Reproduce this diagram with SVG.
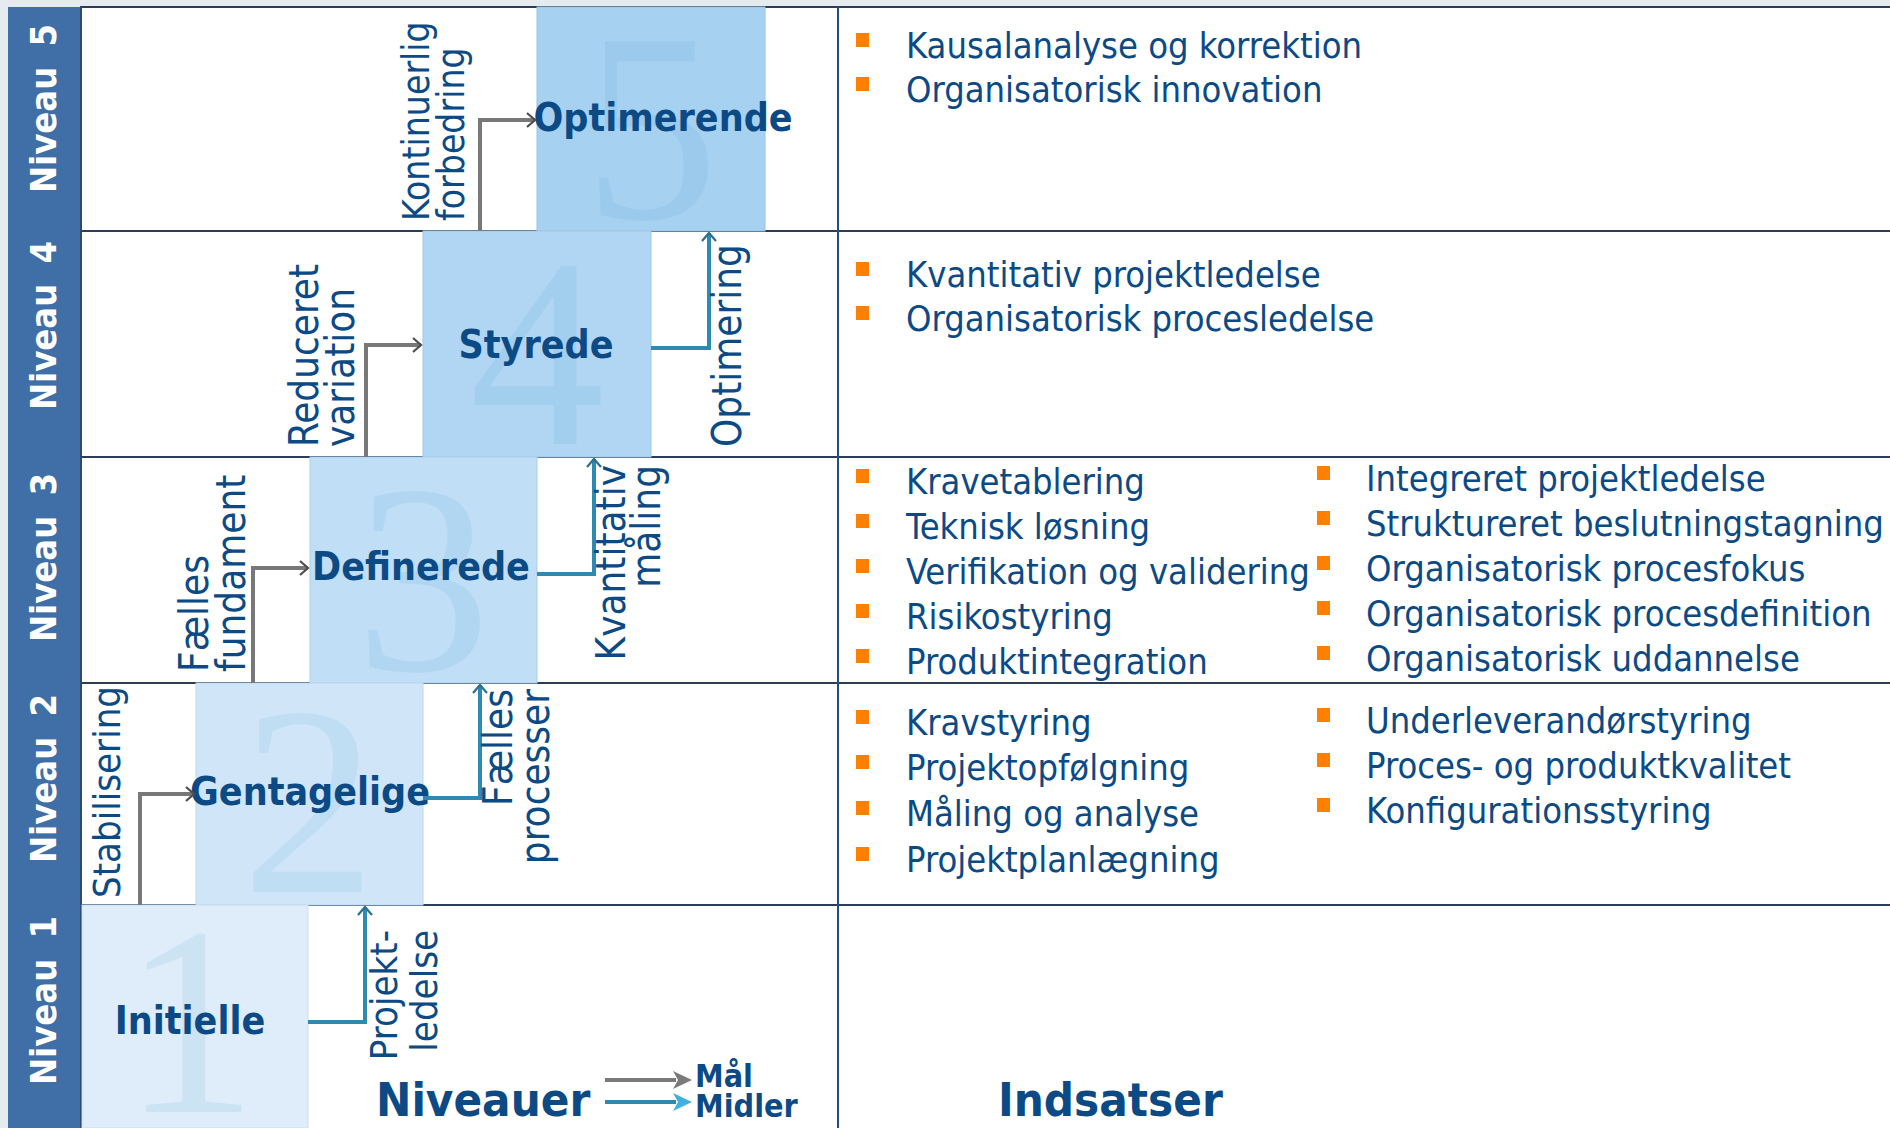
<svg xmlns="http://www.w3.org/2000/svg" width="1890" height="1128" viewBox="0 0 1890 1128">
<style>
.f{font-family:"DejaVu Sans","Liberation Sans",sans-serif;font-stretch:condensed}
.bold{font-weight:bold}
.dk{fill:#0b4a85}
.side{fill:#ffffff;font-weight:bold;font-size:36px}
.box-label{font-size:39px;text-anchor:middle}
.lab{font-size:40px}
.item{font-size:36px}
.num{font-family:"Liberation Serif",serif;font-size:270px;text-anchor:middle;fill:#4a9fd8;fill-opacity:0.12}
.rowline{stroke:#2b3e55;stroke-width:2}
.goal{fill:none;stroke:#787878;stroke-width:4}
.mean{fill:none;stroke:#2e8ab0;stroke-width:4}
.bul{fill:#ff8000}
</style>
<defs>
<marker id="mGoal" markerUnits="userSpaceOnUse" markerWidth="14" markerHeight="16" refX="11" refY="8" orient="auto">
<path d="M3,1 L11,8 L3,15" fill="none" stroke="#4d4d4d" stroke-width="2.2"/>
</marker>
<marker id="mMean" markerUnits="userSpaceOnUse" markerWidth="14" markerHeight="16" refX="11" refY="8" orient="auto">
<path d="M3,1 L11,8 L3,15" fill="none" stroke="#2a6f8f" stroke-width="2.2"/>
</marker>
</defs>

<!-- background -->
<rect x="0" y="0" width="1890" height="1128" fill="#e6ebf0"/>
<rect x="82" y="8" width="1808" height="1120" fill="#ffffff"/>

<!-- table grid -->
<g id="grid">
<line class="rowline" x1="80" y1="7" x2="1890" y2="7"/>
<line class="rowline" x1="80" y1="231" x2="1890" y2="231"/>
<line class="rowline" x1="80" y1="457" x2="1890" y2="457"/>
<line class="rowline" x1="80" y1="683" x2="1890" y2="683"/>
<line class="rowline" x1="80" y1="905" x2="1890" y2="905"/>
<line x1="838" y1="7" x2="838" y2="1128" stroke="#1f4e80" stroke-width="2"/>
</g>

<!-- sidebar -->
<g id="sidebar">
<rect x="8" y="7" width="73" height="1121" fill="#3f6fa6"/>
<line x1="81" y1="7" x2="81" y2="1128" stroke="#2b4a70" stroke-width="2"/>
<text class="f side" transform="translate(56,193) rotate(-90)">Niveau<tspan dx="9"> 5</tspan></text>
<text class="f side" transform="translate(56,410) rotate(-90)">Niveau<tspan dx="9"> 4</tspan></text>
<text class="f side" transform="translate(56,642) rotate(-90)">Niveau<tspan dx="9"> 3</tspan></text>
<text class="f side" transform="translate(56,863) rotate(-90)">Niveau<tspan dx="9"> 2</tspan></text>
<text class="f side" transform="translate(56,1085) rotate(-90)">Niveau<tspan dx="9"> 1</tspan></text>
</g>

<!-- level nodes -->
<g id="level5">
<rect x="537" y="7" width="228" height="224" fill="#a7d1f1" stroke="#98c3e4" stroke-width="1"/>
<text class="num" x="651" y="218">5</text>
<text class="f bold dk box-label" x="663" y="131">Optimerende</text>
</g>
<g id="level4">
<rect x="423" y="231" width="228" height="226" fill="#b0d6f3" stroke="#9fc7e6" stroke-width="1"/>
<text class="num" x="537" y="444">4</text>
<text class="f bold dk box-label" x="536" y="358">Styrede</text>
</g>
<g id="level3">
<rect x="310" y="457" width="227" height="226" fill="#c0def5" stroke="#aacfea" stroke-width="1"/>
<text class="num" x="423" y="670">3</text>
<text class="f bold dk box-label" x="421" y="580">Definerede</text>
</g>
<g id="level2">
<rect x="196" y="683" width="227" height="222" fill="#d0e6f8" stroke="#bad8ee" stroke-width="1"/>
<text class="num" x="309" y="892">2</text>
<text class="f bold dk box-label" x="310" y="805">Gentagelige</text>
</g>
<g id="level1">
<rect x="82" y="905" width="226" height="223" fill="#deedf9" stroke="#c8def0" stroke-width="1"/>
<text class="num" x="190" y="1112">1</text>
<text class="f bold dk box-label" x="190" y="1034">Initielle</text>
</g>

<!-- connectors -->
<g id="connectors">
<path class="goal" d="M140,905 V794 H194" marker-end="url(#mGoal)"/>
<path class="goal" d="M253,683 V568 H308" marker-end="url(#mGoal)"/>
<path class="goal" d="M366,457 V345 H421" marker-end="url(#mGoal)"/>
<path class="goal" d="M480,231 V120 H535" marker-end="url(#mGoal)"/>
<path class="mean" d="M308,1022 H365 V907" marker-end="url(#mMean)"/>
<path class="mean" d="M423,798 H480 V685" marker-end="url(#mMean)"/>
<path class="mean" d="M537,574 H594 V459" marker-end="url(#mMean)"/>
<path class="mean" d="M651,348 H709 V233" marker-end="url(#mMean)"/>
</g>

<!-- connector labels -->
<g id="connector-labels" class="f dk">
<text class="lab" style="font-size:38px" transform="translate(120,898) rotate(-90)">Stabilisering</text>
<text class="lab" transform="translate(0,672) rotate(-90)"><tspan x="0" y="208">Fælles</tspan><tspan x="0" y="245">fundament</tspan></text>
<text class="lab" transform="translate(0,447) rotate(-90)"><tspan x="0" y="318">Reduceret</tspan><tspan x="0" y="354">variation</tspan></text>
<text class="lab" style="font-size:37px" transform="translate(0,221) rotate(-90)"><tspan x="0" y="429">Kontinuerlig</tspan><tspan x="0" y="464">forbedring</tspan></text>
<text class="lab" style="font-size:38px;text-anchor:end" transform="translate(0,930) rotate(-90)"><tspan x="0" y="397">Projekt-</tspan><tspan x="0" y="437">ledelse</tspan></text>
<text class="lab" style="text-anchor:end" transform="translate(0,689) rotate(-90)"><tspan x="0" y="512">Fælles</tspan><tspan x="0" y="549">processer</tspan></text>
<text class="lab" style="text-anchor:end" transform="translate(0,465) rotate(-90)"><tspan x="0" y="625">Kvantitativ</tspan><tspan x="0" y="660">måling</tspan></text>
<text class="lab" transform="translate(741,447) rotate(-90)">Optimering</text>
</g>

<!-- practices -->
<g id="practices5" class="f dk item">
<rect class="bul" x="856" y="33" width="13" height="14"/><text x="906" y="58">Kausalanalyse og korrektion</text>
<rect class="bul" x="856" y="77" width="13" height="14"/><text x="906" y="102">Organisatorisk innovation</text>
</g>
<g id="practices4" class="f dk item">
<rect class="bul" x="856" y="262" width="13" height="14"/><text x="906" y="287">Kvantitativ projektledelse</text>
<rect class="bul" x="856" y="306" width="13" height="14"/><text x="906" y="331">Organisatorisk procesledelse</text>
</g>
<g id="practices3" class="f dk item">
<rect class="bul" x="856" y="469" width="13" height="14"/><text x="906" y="494">Kravetablering</text>
<rect class="bul" x="856" y="514" width="13" height="14"/><text x="906" y="539">Teknisk løsning</text>
<rect class="bul" x="856" y="559" width="13" height="14"/><text x="906" y="584">Verifikation og validering</text>
<rect class="bul" x="856" y="604" width="13" height="14"/><text x="906" y="629">Risikostyring</text>
<rect class="bul" x="856" y="649" width="13" height="14"/><text x="906" y="674">Produktintegration</text>
<rect class="bul" x="1317" y="466" width="13" height="14"/><text x="1366" y="491">Integreret projektledelse</text>
<rect class="bul" x="1317" y="511" width="13" height="14"/><text x="1366" y="536">Struktureret beslutningstagning</text>
<rect class="bul" x="1317" y="556" width="13" height="14"/><text x="1366" y="581">Organisatorisk procesfokus</text>
<rect class="bul" x="1317" y="601" width="13" height="14"/><text x="1366" y="626">Organisatorisk procesdefinition</text>
<rect class="bul" x="1317" y="646" width="13" height="14"/><text x="1366" y="671">Organisatorisk uddannelse</text>
</g>
<g id="practices2" class="f dk item">
<rect class="bul" x="856" y="710" width="13" height="14"/><text x="906" y="735">Kravstyring</text>
<rect class="bul" x="856" y="755" width="13" height="14"/><text x="906" y="780">Projektopfølgning</text>
<rect class="bul" x="856" y="801" width="13" height="14"/><text x="906" y="826">Måling og analyse</text>
<rect class="bul" x="856" y="847" width="13" height="14"/><text x="906" y="872">Projektplanlægning</text>
<rect class="bul" x="1317" y="708" width="13" height="14"/><text x="1366" y="733">Underleverandørstyring</text>
<rect class="bul" x="1317" y="753" width="13" height="14"/><text x="1366" y="778">Proces- og produktkvalitet</text>
<rect class="bul" x="1317" y="798" width="13" height="14"/><text x="1366" y="823">Konfigurationsstyring</text>
</g>

<!-- legend and titles -->
<g id="legend">
<line x1="605" y1="1080" x2="676" y2="1080" stroke="#7a7a7a" stroke-width="4"/>
<polygon points="673,1071 692,1080 673,1089 678,1080" fill="#7a7a7a"/>
<line x1="605" y1="1102" x2="676" y2="1102" stroke="#2e8ab0" stroke-width="4"/>
<polygon points="673,1093 692,1102 673,1111 678,1102" fill="#3fb0e0"/>
<text class="f bold dk" x="695" y="1087" style="font-size:32px">Mål</text>
<text class="f bold dk" x="695" y="1117" style="font-size:32px">Midler</text>
</g>
<g id="titles" class="f bold dk" style="font-size:47px">
<text x="376" y="1116">Niveauer</text>
<text x="998" y="1116">Indsatser</text>
</g>
</svg>
